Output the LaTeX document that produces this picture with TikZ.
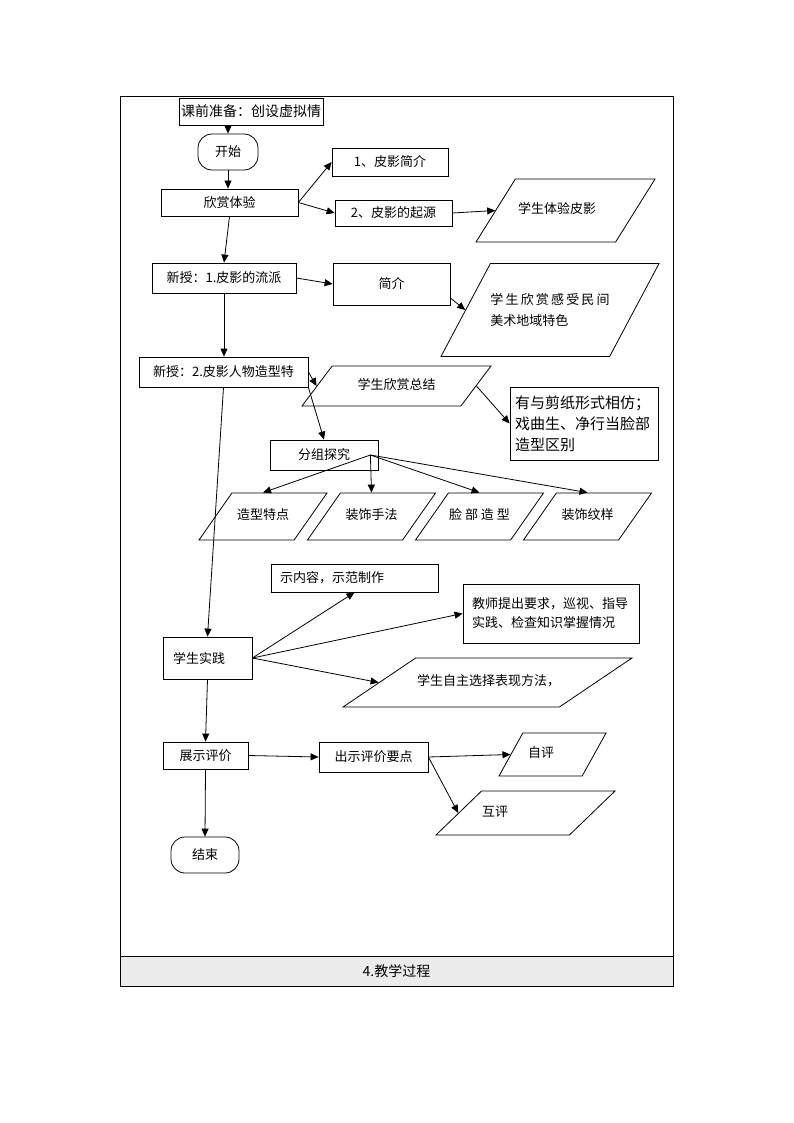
\documentclass[tikz,border=0pt]{standalone}
\usepackage{fontspec}
\setmainfont{Noto Sans CJK SC}
\usetikzlibrary{arrows.meta,shapes.geometric}

\tikzset{
  box/.style={draw, rectangle, inner sep=0pt, font=\fontsize{13}{19}\selectfont},
  lbox/.style={box, align=left, inner xsep=9pt},
  term/.style={box, rounded corners=14pt},
  io/.style 2 args={draw, trapezium, trapezium left angle=#1, trapezium right angle=#2,
    trapezium stretches body=true, inner xsep=0pt, text height=9pt, text depth=3pt,
    font=\fontsize{13}{21}\selectfont},
  arr/.style={-{Triangle[length=8pt,width=7pt]}}
}

\begin{document}
\begin{tikzpicture}[x=1pt, y=-1pt, line width=0.8pt]
        \useasboundingbox (0,0) rectangle (794,1123);

        % draw frame
        \draw (120,96) rectangle (673,986);
        \draw[fill=gray!15] (120,956) rectangle (673,986);
        \node[font=\fontsize{14}{17}\selectfont] (title) at (396.5,971) {4.教学过程};

        % draw nodes
        \node[box, minimum width=144pt, minimum height=27pt, font=\fontsize{14}{17}\selectfont] (prep) at (251,111.5) {课前准备：创设虚拟情};
        \node[term, minimum width=60pt, minimum height=36pt] (start) at (228,152) {开始};
        \node[box, minimum width=137pt, minimum height=27pt] (enjoy) at (229.5,202.5) {欣赏体验};
        \node[box, minimum width=116pt, minimum height=28pt] (intro) at (390,162) {1、皮影简介};
        \node[box, minimum width=117pt, minimum height=26pt] (origin) at (393.5,213) {2、皮影的起源};
        \node[io={58}{122}, minimum width=179pt, inner ysep=25.5pt, text width=95pt, align=left] (exp) at (565.5,210.5) {学生体验皮影};

        \node[box, minimum width=144pt, minimum height=30pt] (sect1) at (224,278) {新授：1.皮影的流派};
        \node[box, minimum width=117pt, minimum height=42pt] (brief) at (391.5,284) {简介};
        \node[io={62}{118}, minimum width=216pt, inner ysep=30pt, text height=, text depth=, align=left] (feel) at (550,310) {学\,生\,欣\,赏\,感\,受\,民\,间\\美术地域特色};

        \node[box, minimum width=169pt, minimum height=30pt] (sect2) at (223.5,372) {新授：2.皮影人物造型特};
        \node[io={53}{127}, minimum width=189pt, inner ysep=14pt] (summ) at (396.5,386) {学生欣赏总结};
        \node[lbox, minimum width=148pt, minimum height=73pt, inner xsep=5pt, text width=138pt, font=\fontsize{15}{21}\selectfont] (paper) at (584,423.5) {有与剪纸形式相仿；\\戏曲生、净行当脸部\\造型区别};
        \node[box, minimum width=108pt, minimum height=30pt] (group) at (324,455) {分组探究};

        \foreach \name/\x/\txt in {shape/263/造型特点, deco/371.5/装饰手法, face/479.5/脸 部 造 型, pattern/587.5/装饰纹样}
          \node[io={55}{125}, minimum width=128pt, inner ysep=17.5pt] (\name) at (\x,516.5) {\txt};

        \node[lbox, minimum width=167pt, minimum height=28pt, text width=149pt] (demo) at (354.5,578) {示内容，示范制作};
        \node[lbox, minimum width=176pt, minimum height=59pt, text width=158pt] (teach) at (551,613.5) {教师提出要求，巡视、指导\\实践、检查知识掌握情况};
        \node[lbox, minimum width=89pt, minimum height=42pt, inner xsep=10pt, text width=69pt] (practice) at (207.5,658) {学生实践};
        \node[io={34}{146}, minimum width=289pt, inner ysep=18.5pt, text width=141pt, align=left] (choose) at (487.5,682.5) {学生自主选择表现方法，};

        \node[box, minimum width=85pt, minimum height=27pt] (show) at (205.5,755.5) {展示评价};
        \node[box, minimum width=109pt, minimum height=30pt] (points) at (373.5,757) {出示评价要点};
        \node[io={61}{119}, minimum width=107pt, inner ysep=15.5pt, text width=49pt, align=left] (selfev) at (552.5,754.5) {自评};
        \node[io={44}{136}, minimum width=179pt, inner ysep=16pt, text width=87pt, align=left] (peer) at (525.5,813) {互评};
        \node[term, minimum width=68pt, minimum height=36pt] (finish) at (205,855) {结束};

        % draw arrows
        \draw[arr] (start.north |- prep.south) -- (start.north);
        \draw[arr] (start.south) -- (start.south |- enjoy.north);
        \draw[arr] (enjoy.east) -- (intro.west);
        \draw[arr] (enjoy.east) -- (origin.west);
        \draw[arr] (origin.east) -- (exp.west);
        \draw[arr] (enjoy.south) -- (sect1.north);
        \draw[arr] (sect1.east) -- (brief.west);
        \draw[arr] ([yshift=-14pt]brief.east) -- (feel.west);
        \draw[arr] (sect1.south) -- (sect1.south |- sect2.north);
        \draw[arr] (sect2.east) -- (summ.west);
        \draw[arr] (sect2.south east) -- (group.north);
        \draw[arr] (summ.east) -- (paper.west);
        \draw[arr] (sect2.south) -- (practice.north);
        \foreach \t in {shape,deco,face,pattern}
          \draw[arr] ([xshift=-8pt]group.east) -- (\t.center |- \t.north);
        \draw[arr] (practice.east) -- (demo.south);
        \draw[arr] (practice.east) -- (teach.west);
        \draw[arr] (practice.east) -- (choose.west);
        \draw[arr] (practice.south) -- (show.north);
        \draw[arr] (show.east) -- (points.west);
        \draw[arr] (points.east) -- (selfev.west);
        \draw[arr] (points.east) -- (peer.west);
        \draw[arr] (show.south) -- (finish.north);
\end{tikzpicture}
\end{document}
